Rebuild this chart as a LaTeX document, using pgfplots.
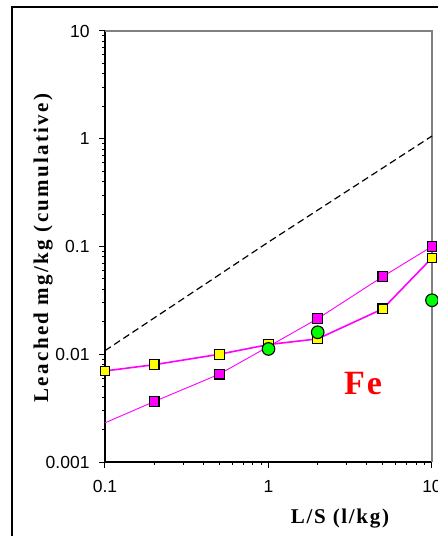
\documentclass[border=0pt]{standalone}
\usepackage{pgfplots}
\pgfplotsset{compat=1.18}
\usepackage{fontspec}
\newfontfamily\arial{Liberation Sans}
\newfontfamily\ylabfont[LetterSpace=11]{Liberation Serif}
\newfontfamily\xlabfont[LetterSpace=8]{Liberation Serif}
\newfontfamily\fefont[LetterSpace=6]{Liberation Serif}
\definecolor{mag}{HTML}{FF00FF}
\definecolor{yel}{HTML}{FFFF00}
\definecolor{grn}{HTML}{00FF00}
\begin{document}
\begin{tikzpicture}
\begin{axis}[
  at={(105pt,74pt)}, anchor=south west,
  scale only axis, width=327pt, height=431pt,
  xmode=log, ymode=log,
  xmin=0.1, xmax=10, ymin=0.001, ymax=10,
  enlargelimits=false,
  axis lines=left, axis line style={-, line width=1.1pt, black},
  xtick={0.1,1,10}, xticklabels={0.1,1,10},
  ytick={0.001,0.01,0.1,1,10}, yticklabels={0.001,0.01,0.1,1,10},
  minor tick num=0, minor xtick={}, minor ytick={},
  tick align=outside, major tick length=6pt,
  tick style={black, line width=1pt},
  /pgf/number format/assume math mode=true,
  tick label style={font=\arial\fontsize{17.5}{20}\selectfont},
  yticklabel style={xshift=-6pt},
  xticklabel style={yshift=-9pt},
  clip=false,
]
\draw[gray, line width=1.3pt] (rel axis cs:0,1) -- (rel axis cs:1,1) -- (rel axis cs:1,0);
% dashed reference line
\addplot[black, line width=1.2pt, dash pattern=on 7pt off 4pt] coordinates {(0.1,0.0108) (1,0.11) (10,1.06)};
% magenta series line extension (no mark)
\addplot[mag, line width=0.9pt] coordinates {(0.1,0.00231) (0.2,0.00364)};
\addplot[mag, line width=0.9pt, mark=square*, mark size=4.8pt,
  mark options={fill=mag, draw=black, line width=1.1pt, solid}] coordinates {
  (0.2,0.00364) (0.5,0.00653) (1,0.0118) (2,0.0214) (5,0.0526) (10,0.1)};
\addplot[mag, line width=1.6pt, mark=square*, mark size=4.8pt,
  mark options={fill=yel, draw=black, line width=1.1pt, solid}] coordinates {
  (0.1,0.0070) (0.2,0.0080) (0.5,0.0100) (1,0.0123) (2,0.0139) (5,0.0264) (10,0.0784)};
\addplot[only marks, mark=*, mark size=6.3pt,
  mark options={fill=grn, draw=black, line width=1.1pt}] coordinates {
  (1,0.0112) (2,0.016) (10,0.0317)};
\end{axis}
\node[rotate=90, anchor=base, inner sep=0pt] at (48pt,288pt) {\ylabfont\bfseries\fontsize{21}{24}\selectfont Leached mg/kg (cumulative)};
\node[anchor=base, inner sep=0pt] at (340pt,12.7pt) {\xlabfont\bfseries\fontsize{21}{24}\selectfont L/S (l/kg)};
\node[anchor=base, inner sep=0pt, text=red] at (363pt,141.7pt) {\fefont\bfseries\fontsize{34}{37}\selectfont Fe};
\draw[black, line width=1.2pt] (12pt,-20pt) rectangle (470pt,529pt);
\pgfresetboundingbox
\useasboundingbox (0pt,0pt) rectangle (438pt,536pt);
\end{tikzpicture}
\end{document}
